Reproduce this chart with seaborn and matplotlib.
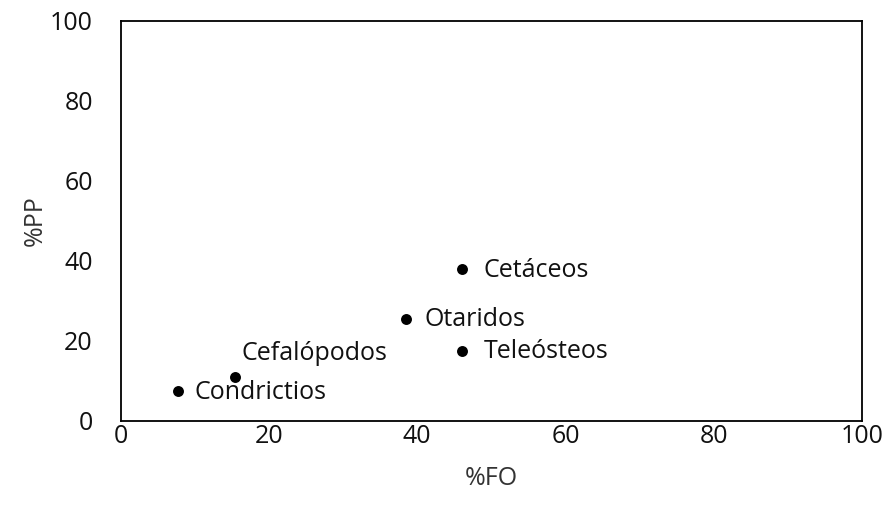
import matplotlib
matplotlib.use("Agg")
import matplotlib.pyplot as plt
import seaborn as sns
import pandas as pd

# values
groups = ["Cetáceos", "Otaridos", "Teleósteos", "Cefalópodos", "Condrictios"]
fo = [46.1, 38.5, 46.1, 15.4, 7.7]
pp = [38.0, 25.6, 17.6, 11.1, 7.4]

# label offsets in pixels (dx, dy)
offsets = {
    "Cetáceos": (21, -2),
    "Otaridos": (19, -1),
    "Teleósteos": (21, -1),
    "Cefalópodos": (7, 23),
    "Condrictios": (17, -1),
}

df = pd.DataFrame({"group": groups, "FO": fo, "PP": pp})

sns.set_theme(style="white")
plt.rcParams["font.family"] = ["Open Sans", "DejaVu Sans"]

fig = plt.figure(figsize=(8.89, 5.17), dpi=100)
ax = fig.add_axes([0.1356, 0.1857, 0.8340, 0.7737])

sns.scatterplot(data=df, x="FO", y="PP", color="black", s=62, edgecolor="black",
                linewidth=0, ax=ax, zorder=3, clip_on=False)

for g, x, y in zip(groups, fo, pp):
    dx, dy = offsets[g]
    ax.annotate(g, (x, y), xytext=(dx, dy), textcoords="offset pixels",
                ha="left", va="center", fontsize=18, color="#111111")

ax.set_xlim(0, 100)
ax.set_ylim(0, 100)
ax.set_xticks(range(0, 101, 20))
ax.set_yticks(range(0, 101, 20))
ax.tick_params(axis="both", labelsize=18, colors="#111111", length=0)
ax.tick_params(axis="x", pad=2)
ax.tick_params(axis="y", pad=20)
ax.set_xlabel("%FO", fontsize=18, color="#333333")
ax.set_ylabel("%PP", fontsize=18, color="#333333")
ax.xaxis.set_label_coords(0.5, -0.113)
ax.yaxis.set_label_coords(-0.098, 0.5)
for side in ax.spines.values():
    side.set_visible(True)
    side.set_color("black")
    side.set_linewidth(1.3)

fig.savefig("out.png", dpi=100, facecolor="white")
